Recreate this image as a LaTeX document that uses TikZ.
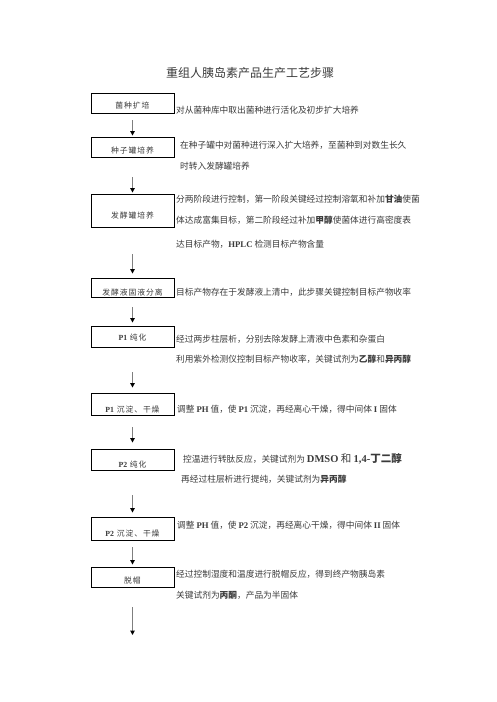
\documentclass[tikz,border=0pt]{standalone}
\usepackage{fontspec}
\setmainfont{Noto Sans CJK SC}
\newfontfamily\boxfont{Noto Sans CJK SC}[LetterSpace=12]
\newfontfamily\latinbold{Liberation Serif}
\newcommand{\lat}[1]{{\latinbold\bfseries #1}}
\usetikzlibrary{positioning,arrows.meta}
\definecolor{textgray}{HTML}{3A3A3A}
\definecolor{arrowgray}{HTML}{7F7F7F}
\tikzset{
  stepbox/.style={draw=black,line width=0.9pt,minimum width=83pt,inner sep=0pt,
    font=\boxfont\fontsize{7.8}{9}\selectfont,text=textgray},
  desc/.style={anchor=base west,inner sep=0pt,font=\fontsize{8.7}{10}\selectfont,text=textgray},
  flow/.style={arrowgray,line width=1.4pt,-{Triangle[length=4.5pt,width=4.5pt,color=black]}},
}
\begin{document}
\begin{tikzpicture}[x=1pt,y=-1pt]
        \useasboundingbox(0,0)rectangle(496,702);
        \node[font=\fontsize{12}{14}\selectfont,text=textgray](title)at(250,73){重组人胰岛素产品生产工艺步骤};
        % process steps
        \node[stepbox,text height=15.4pt,text depth=4.6pt](kuopei)at(132.5,103){菌种扩培};
        \node[stepbox,text height=16.6pt,text depth=3.4pt](zhongzi)at(132.5,147){种子罐培养};
        \node[stepbox,text height=24pt,text depth=9pt](fajiao)at(132.5,210.5){发酵罐培养};
        \node[stepbox,text height=17pt,text depth=2pt](fenli)at(132.5,287.5){发酵液固液分离};
        \node[stepbox,text height=14pt,text depth=7pt](ponepure)at(132.5,336.5){\lat{P1} 纯化};
        \node[stepbox,text height=19pt,text depth=3pt](ponedry)at(132.5,404){\lat{P1} 沉淀、干燥};
        \node[stepbox,text height=18pt,text depth=3pt](ptwopure)at(132.5,459.5){\lat{P2} 纯化};
        \node[stepbox,text height=19pt,text depth=4pt](ptwodry)at(132.5,528.5){\lat{P2} 沉淀、干燥};
        \node[stepbox,text height=16pt,text depth=4pt](tuomao)at(132.5,577){脱帽};
        \coordinate(finish)at(132.5,635);
        % arrows
        \draw[flow,shorten >=1pt]([yshift=-7pt]kuopei.south)--(zhongzi.north);
        \draw[flow,shorten >=1pt]([yshift=-20pt]zhongzi.south)--(fajiao.north);
        \draw[flow,shorten >=4pt]([yshift=-27pt]fajiao.south)--(fenli.north);
        \draw[flow,shorten >=3pt]([yshift=-10pt]fenli.south)--(ponepure.north);
        \draw[flow,shorten >=5pt]([yshift=-25pt]ponepure.south)--(ponedry.north);
        \draw[flow,shorten >=6pt]([yshift=-12pt]ponedry.south)--(ptwopure.north);
        \draw[flow,shorten >=4pt]([yshift=-25pt]ptwopure.south)--(ptwodry.north);
        \draw[flow,shorten >=2pt]([yshift=-7pt]ptwodry.south)--(tuomao.north);
        \draw[flow]([yshift=-20pt]tuomao.south)--(finish);
        % descriptions
        \node[desc](kuopeitxt)at(176,113){对从菌种库中取出菌种进行活化及初步扩大培养};
        \node[desc](zhongzitxt)at(180,148){在种子罐中对菌种进行深入扩大培养，至菌种到对数生长久};
        \node[desc](zhongzitxtb)at(180,169){时转入发酵罐培养};
        \node[desc](fajiaotxt)at(176,202){分两阶段进行控制，第一阶段关键经过控制溶氧和补加\textbf{甘油}使菌};
        \node[desc](fajiaotxtb)at(176,223){体达成富集目标，第二阶段经过补加\textbf{甲醇}使菌体进行高密度表};
        \node[desc](fajiaotxtc)at(176,247){达目标产物，\lat{HPLC} 检测目标产物含量};
        \node[desc](fenlitxt)at(176,295){目标产物存在于发酵液上清中，此步骤关键控制目标产物收率};
        \node[desc](ponepuretxt)at(176,342){经过两步柱层析，分别去除发酵上清液中色素和杂蛋白};
        \node[desc](ponepuretxtb)at(176,362){利用紫外检测仪控制目标产物收率，关键试剂为\textbf{乙醇}和\textbf{异丙醇}};
        \node[desc](ponedrytxt)at(177,412){调整 \lat{PH} 值，使 \lat{P1} 沉淀，再经离心干燥，得中间体 \lat{I} 固体};
        \node[desc](ptwopuretxt)at(183,462){控温进行转肽反应，关键试剂为 {\fontsize{10.5}{12}\selectfont\lat{DMSO} 和 \lat{1,4-}\bfseries 丁二醇}};
        \node[desc](ptwopuretxtb)at(181,482){再经过柱层析进行提纯，关键试剂为\textbf{异丙醇}};
        \node[desc](ptwodrytxt)at(177,528){调整 \lat{PH} 值，使 \lat{P2} 沉淀，再经离心干燥，得中间体 \lat{II} 固体};
        \node[desc](tuomaotxt)at(176,577){经过控制湿度和温度进行脱帽反应，得到终产物胰岛素};
        \node[desc](tuomaotxtb)at(176,598){关键试剂为\textbf{丙酮}，产品为半固体};
      \end{tikzpicture}
\end{document}
